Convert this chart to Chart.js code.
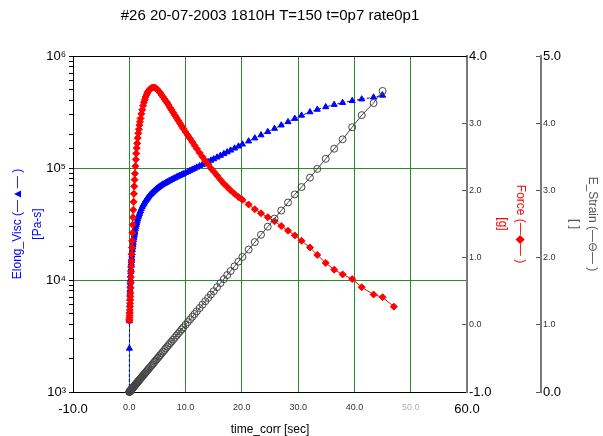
<!DOCTYPE html>
<html>
<head>
<meta charset="utf-8">
<script src="https://cdn.jsdelivr.net/npm/chart.js@4"></script>
<style>
  body { margin: 0; background: #fff; }
</style>
</head>
<body>
<canvas id="rheo" width="603" height="436"></canvas>
<script>
// run #26, extensional test
const timeCorr = [
  0, 0.02, 0.04, 0.06, 0.08, 0.10, 0.12, 0.14, 0.16, 0.18,
  0.20, 0.23, 0.26, 0.29, 0.32, 0.35, 0.38, 0.42, 0.46, 0.50,
  0.55, 0.60, 0.65, 0.70, 0.76, 0.82, 0.88, 0.94, 1.00, 1.08,
  1.16, 1.24, 1.32, 1.40, 1.50, 1.60, 1.70, 1.80, 1.90, 2.00,
  2.15, 2.30, 2.45, 2.60, 2.75, 2.90, 3.05, 3.20, 3.35, 3.50,
  3.70, 3.90, 4.10, 4.30, 4.50, 4.70, 4.90, 5.10, 5.30, 5.50,
  5.75, 6.00, 6.25, 6.50, 6.75, 7.00, 7.25, 7.50, 7.80, 8.10,
  8.40, 8.70, 9.00, 9.30, 9.60, 10.0, 10.4, 10.8, 11.2, 11.6,
  12.0, 12.5, 13.0, 13.5, 14.0, 14.5, 15.0, 15.6, 16.2, 16.8,
  17.4, 18.0, 18.7, 19.4, 20.1, 21.2, 22.3, 23.4, 24.6, 25.8,
  27.0, 28.2, 29.4, 30.6, 32.1, 33.4, 34.9, 36.4, 37.9, 39.6,
  41.3, 43.4, 45.0, 47.0
];

const elongVisc = [
  1000, 2450, 4300, 5200, 6000, 6800, 7500, 8200, 8900, 9500,
  10100, 11000, 11800, 12600, 13400, 14100, 14800, 15700, 16600, 17500,
  18600, 19600, 20600, 21600, 22800, 23900, 25000, 26000, 27000, 28400,
  29700, 31000, 32200, 33400, 34900, 36300, 37700, 39000, 40300, 41500,
  43300, 45000, 46600, 48100, 49500, 50900, 52200, 53500, 54700, 55900,
  57400, 58900, 60300, 61700, 63000, 64300, 65500, 66700, 67800, 68900,
  70200, 71500, 72700, 73900, 75100, 76300, 77500, 78700, 80100, 81500,
  82900, 84300, 85700, 87100, 88600, 90600, 92700, 94800, 97000, 99200,
  101400, 104300, 107300, 110400, 113600, 116900, 120300, 124600, 129100, 133800,
  138700, 143800, 149900, 156300, 162900, 173500, 184800, 196800, 210500, 225000,
  241000, 258000, 276000, 295000, 316000, 333000, 351000, 368000, 383000, 398000,
  412000, 428000, 445000, null
];

const force = [
  0.06, 0.08, 0.11, 0.14, 0.18, 0.22, 0.27, 0.32, 0.37, 0.42,
  0.47, 0.55, 0.63, 0.71, 0.79, 0.87, 0.95, 1.05, 1.15, 1.25,
  1.37, 1.49, 1.60, 1.71, 1.83, 1.95, 2.06, 2.16, 2.25, 2.36,
  2.46, 2.55, 2.63, 2.70, 2.78, 2.85, 2.91, 2.97, 3.02, 3.07,
  3.14, 3.20, 3.26, 3.31, 3.35, 3.39, 3.42, 3.45, 3.47, 3.49,
  3.51, 3.52, 3.53, 3.53, 3.53, 3.52, 3.51, 3.49, 3.47, 3.45,
  3.42, 3.39, 3.36, 3.33, 3.30, 3.27, 3.23, 3.20, 3.16, 3.12,
  3.08, 3.04, 3.00, 2.96, 2.92, 2.87, 2.82, 2.77, 2.72, 2.67,
  2.62, 2.56, 2.50, 2.44, 2.39, 2.33, 2.28, 2.22, 2.16, 2.10,
  2.05, 2.00, 1.95, 1.90, 1.86, 1.79, 1.72, 1.66, 1.60, 1.54,
  1.47, 1.40, 1.33, 1.25, 1.15, 1.04, 0.92, 0.82, 0.75, 0.68,
  0.56, 0.45, 0.41, 0.27
];

const eStrain = [
  0, 0.002, 0.004, 0.006, 0.008, 0.010, 0.012, 0.014, 0.016, 0.018,
  0.020, 0.023, 0.026, 0.029, 0.032, 0.035, 0.038, 0.042, 0.046, 0.050,
  0.055, 0.060, 0.065, 0.070, 0.076, 0.082, 0.088, 0.094, 0.100, 0.108,
  0.116, 0.124, 0.132, 0.140, 0.150, 0.160, 0.170, 0.180, 0.190, 0.200,
  0.215, 0.230, 0.245, 0.260, 0.275, 0.290, 0.305, 0.320, 0.335, 0.350,
  0.37, 0.39, 0.41, 0.43, 0.45, 0.47, 0.49, 0.51, 0.53, 0.55,
  0.575, 0.60, 0.625, 0.65, 0.675, 0.70, 0.725, 0.75, 0.78, 0.81,
  0.84, 0.87, 0.90, 0.93, 0.96, 1.00, 1.04, 1.08, 1.12, 1.16,
  1.20, 1.25, 1.30, 1.35, 1.40, 1.45, 1.50, 1.56, 1.62, 1.68,
  1.74, 1.80, 1.87, 1.94, 2.01, 2.12, 2.23, 2.34, 2.46, 2.58,
  2.70, 2.82, 2.94, 3.05, 3.19, 3.32, 3.47, 3.62, 3.76, 3.94,
  4.12, 4.30, 4.48, null
];

const titleText = '#26 20-07-2003 1810H T=150 t=0p7 rate0p1';
const GRID_GREEN = 'rgb(40,140,40)';
const NONE = 'rgba(0,0,0,0)';
const SUP = { 3: '\u00b3', 4: '\u2074', 5: '\u2075', 6: '\u2076' };

Chart.defaults.font.family = '"Liberation Sans", Arial, sans-serif';
Chart.defaults.color = '#000';

function pts(ys) {
  return timeCorr.map((t, i) => ({ x: t, y: ys[i] }));
}

function isDecade(v) {
  const l = Math.log10(v);
  return Math.abs(l - Math.round(l)) < 1e-6;
}

// end labels of each axis are drawn big, the inner ones small
function endFont(lo, hi) {
  return (ctx) => {
    const v = ctx.tick ? ctx.tick.value : null;
    return (v === lo || v === hi) ? { size: 13 } : { size: 9 };
  };
}

// the chart frame has a black top edge
const topEdge = {
  id: 'topEdge',
  afterDraw(chart) {
    const a = chart.chartArea;
    const ctx = chart.ctx;
    ctx.save();
    ctx.strokeStyle = '#000';
    ctx.lineWidth = 1;
    ctx.beginPath();
    ctx.moveTo(a.left, Math.round(a.top) + 0.5);
    ctx.lineTo(a.right, Math.round(a.top) + 0.5);
    ctx.stroke();
    ctx.restore();
  }
};

new Chart(document.getElementById('rheo'), {
  type: 'line',
  data: {
    datasets: [
      {
        label: 'E_Strain',
        data: pts(eStrain),
        yAxisID: 'yStrain',
        borderColor: '#444',
        borderWidth: 1,
        pointStyle: 'circle',
        pointRadius: 3.5,
        pointBorderWidth: 1,
        pointBorderColor: '#444',
        pointBackgroundColor: NONE,
        backgroundColor: NONE,
        tension: 0,
        clip: false
      },
      {
        label: 'Force',
        data: pts(force),
        yAxisID: 'yForce',
        borderColor: '#ff0000',
        borderWidth: 1,
        pointStyle: 'rectRot',
        pointRadius: 3.5,
        pointBorderWidth: 1,
        pointBorderColor: '#ff0000',
        pointBackgroundColor: '#ff0000',
        backgroundColor: '#ff0000',
        tension: 0,
        clip: false
      },
      {
        label: 'Elong_Visc',
        data: pts(elongVisc),
        yAxisID: 'yVisc',
        borderColor: '#0000ff',
        borderWidth: 1,
        borderDash: [3, 2],
        pointStyle: 'triangle',
        pointRadius: 3.5,
        pointBorderWidth: 1,
        pointBorderColor: '#0000ff',
        pointBackgroundColor: '#0000ff',
        backgroundColor: '#0000ff',
        tension: 0,
        clip: false
      }
    ]
  },
  options: {
    responsive: false,
    animation: false,
    layout: { padding: 0 },
    plugins: {
      legend: { display: false },
      tooltip: { enabled: false },
      title: {
        display: true,
        text: titleText,
        fullSize: false,
        color: '#000',
        font: { size: 15, weight: 'normal', lineHeight: 1.2 },
        padding: { top: 6.5, bottom: 31.5 }
      }
    },
    scales: {
      x: {
        type: 'linear',
        position: 'bottom',
        min: -10,
        max: 60,
        afterFit: (s) => { s.height = 44; },
        ticks: {
          stepSize: 10,
          autoSkip: false,
          maxRotation: 0,
          padding: 10,
          callback: (v) => v.toFixed(1),
          font: endFont(-10, 60),
          color: (ctx) => {
            const v = ctx.tick.value;
            if (v === -10 || v === 60) return '#000';
            return v === 50 ? '#b0b0b0' : '#333';
          }
        },
        grid: {
          drawTicks: false,
          lineWidth: 1,
          color: (ctx) => (ctx.tick && ctx.tick.value > -10 && ctx.tick.value < 60) ? GRID_GREEN : NONE
        },
        border: { color: '#000', width: 1 },
        title: {
          display: true,
          text: 'time_corr [sec]',
          color: '#000',
          font: { size: 12, lineHeight: 1 },
          padding: 0
        }
      },
      yVisc: {
        type: 'logarithmic',
        position: 'left',
        min: 1000,
        max: 1000000,
        afterFit: (s) => { s.width = 73; },
        ticks: {
          autoSkip: false,
          padding: 3,
          font: { size: 13 },
          color: '#000',
          callback: (v) => isDecade(v) ? '10' + SUP[Math.round(Math.log10(v))] : ''
        },
        grid: {
          tickLength: 4,
          tickColor: '#000',
          color: (ctx) => {
            const v = ctx.tick ? ctx.tick.value : 0;
            return (isDecade(v) && v > 1000 && v < 1000000) ? GRID_GREEN : NONE;
          }
        },
        border: { color: '#000', width: 1 },
        title: {
          display: true,
          text: ['Elong_Visc (\u2014\u25b2\u2014 )', '[Pa-s]'],
          color: '#0000ff',
          font: { size: 12, lineHeight: 1.67 },
          padding: { top: 8, bottom: 0 }
        }
      },
      yForce: {
        type: 'linear',
        position: 'right',
        weight: 0,
        min: -1,
        max: 4,
        afterFit: (s) => { s.width = 74; },
        ticks: {
          stepSize: 1,
          padding: 7,
          callback: (v) => v.toFixed(1),
          font: endFont(-1, 4),
          color: (ctx) => (ctx.tick.value === -1 || ctx.tick.value === 4) ? '#000' : '#333'
        },
        grid: { drawOnChartArea: false, tickLength: -5, tickColor: '#555' },
        border: { color: '#7a7a7a', width: 2 },
        title: {
          display: true,
          text: ['Force (\u2014\u25c6\u2014 )', '[g]'],
          color: '#ff0000',
          font: { size: 12, lineHeight: 1.5 },
          padding: { top: 12, bottom: 0 }
        }
      },
      yStrain: {
        type: 'linear',
        position: 'right',
        weight: 1,
        min: 0,
        max: 5,
        afterFit: (s) => { s.width = 62; },
        ticks: {
          stepSize: 1,
          padding: 7,
          callback: (v) => v.toFixed(1),
          font: endFont(0, 5),
          color: (ctx) => (ctx.tick.value === 0 || ctx.tick.value === 5) ? '#000' : '#333'
        },
        grid: { drawOnChartArea: false, tickLength: -5, tickColor: '#555' },
        border: { color: '#7a7a7a', width: 2 },
        title: {
          display: true,
          text: ['E_Strain (\u2014\u2296\u2014 )', '[ ]'],
          color: '#555',
          font: { size: 12, lineHeight: 1.5 },
          padding: { top: 2, bottom: 0 }
        }
      }
    }
  },
  plugins: [topEdge]
});
</script>
</body>
</html>
